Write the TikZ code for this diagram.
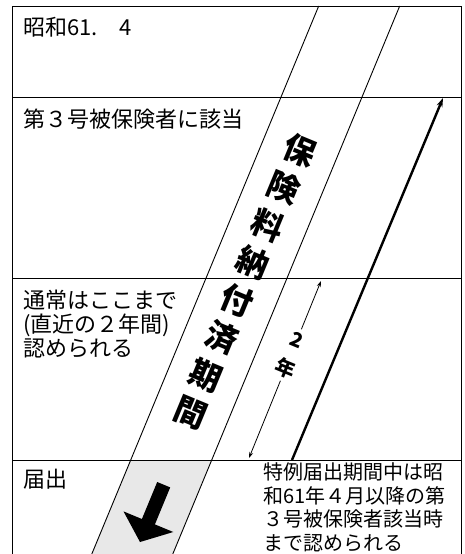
\documentclass[tikz,border=0pt]{standalone}
\usepackage{fontspec}
\setmainfont{Noto Sans CJK JP}
\usepackage{tikz}
\usetikzlibrary{arrows.meta}
\tikzset{
  txt/.style = {inner sep=0pt, anchor=west, font=\fontsize{22}{24}\selectfont},
  txt_blk/.style = {txt, anchor=north west, align=left},% bloc de lignes
  txt_r/.style = {txt_blk, font=\fontsize{20}{23.5}\selectfont},
  band_c/.style = {inner sep=0pt, rotate=-22.5,
    font=\bfseries\fontsize{32}{32}\selectfont},% bande, caractere
  yr_c/.style = {inner sep=4pt, rotate=-22.5,
    font=\bfseries\fontsize{20}{20}\selectfont},
  frame/.style = {line width=1pt, black},
  edge_b/.style = {line width=0.9pt},
  long_a/.style = {line width=2.4pt, -{Stealth[length=9pt,width=6pt]}},
  thin_a/.style = {line width=0.8pt, -{Stealth[length=6pt,width=4pt]}}
}

\begin{document}
\begin{tikzpicture}[x=1pt, y=-1pt]
  \useasboundingbox (0,0) rectangle (464,554);
  % bande
  \coordinate (bl_t) at (318.7,6);
  \coordinate (bl_m) at (130.7,460);
  \coordinate (bl_b) at (91.8,554);
  \coordinate (br_t) at (399.7,6);
  \coordinate (br_m) at (211.7,460);
  \coordinate (br_b) at (172.8,554);
  \fill[black!9] (bl_m) -- (br_m) -- (br_b) -- (bl_b) -- cycle;
  \draw[edge_b] (bl_t) -- (bl_b);
  \draw[edge_b] (br_t) -- (br_b);
  % cadre
  \draw[frame] (12.5,554) -- (12.5,6) -- (461.5,6) -- (461.5,554);
  \foreach \y in {97,278,460}
    \draw[frame] (12.5,\y) -- (461.5,\y);
  % texte de la bande
  \foreach \c [count=\i from 0] in {保,険,料,納,付,済,期,間}
    \node[band_c] (bc\i) at ({321.5-0.414*(53+37.6*\i)}, {150+37.6*\i}) {\c};
  % fleche noire
  \fill[black] (157.2,482.0) -- (170.2,487.4) -- (154.9,524.4) -- (173.3,532.0)
    -- (140,542) -- (123.5,511.4) -- (141.9,519.0) -- cycle;
  % fleches de droite
  \coordinate (la_b) at (292,460);
  \coordinate (la_t) at (443,98);
  \draw[long_a] (la_b) -- (la_t);
  \coordinate (yr_t) at (321,281);
  \coordinate (yr_b) at (249,458);
  \node[yr_c] (n_two) at (297,340) {2};
  \node[yr_c] (n_yr) at (285.6,368) {年};
  \draw[thin_a] (n_two) -- (yr_t);
  \draw[thin_a] (n_yr) -- (yr_b);
  % textes
  \node[txt] (t_s61) at (23,27.5) {昭和61.　4};
  \node[txt] (t_dai3) at (23,119) {第３号被保険者に該当};
  \node[txt_blk] (t_tsu) at (23,289.5) {通常はここまで\\(直近の２年間)\\認められる};
  \node[txt] (t_todo) at (23,479.5) {届出};
  \node[txt_r] (t_tok) at (263,462.5) {特例届出期間中は昭\\和61年４月以降の第\\３号被保険者該当時\\まで認められる};
\end{tikzpicture}
\end{document}
